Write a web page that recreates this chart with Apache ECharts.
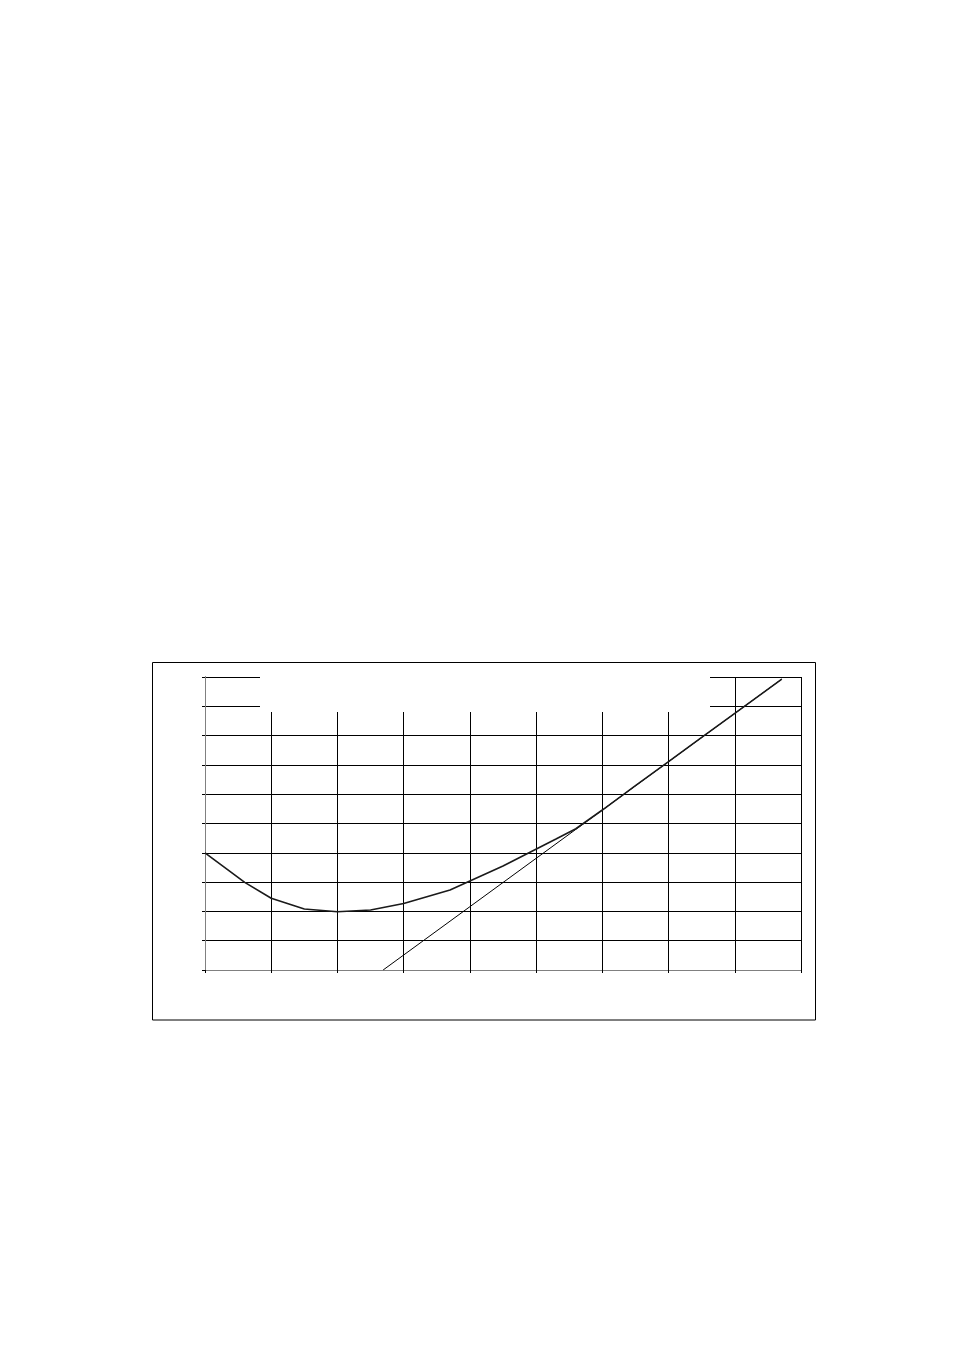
<!DOCTYPE html>
<html>
<head>
<meta charset="utf-8">
<script src="https://cdn.jsdelivr.net/npm/echarts@6/dist/echarts.min.js"></script>
<style>
html,body{margin:0;padding:0;background:#fff;}
#chart{width:954px;height:1350px;}
</style>
</head>
<body>
<div id="chart"></div>
<script>
// Axis ranges (no labels are shown in the reference)
const xTicks = [0, 1, 2, 3, 4, 5, 6, 7, 8, 9];
const yTicks = [0, 1, 2, 3, 4, 5, 6, 7, 8, 9, 10];

// Curve series (x, y)
const curveX = [0, 0.6, 1.0, 1.5, 2.0, 2.5, 3.0, 3.7, 4.0, 4.5, 4.9, 5.3, 5.6, 6.0, 6.5, 7.0, 7.5, 8.0, 8.71];
const curveY = [4.0, 2.99, 2.45, 2.08, 1.99, 2.05, 2.27, 2.73, 3.04, 3.55, 4.01, 4.47, 4.82, 5.46, 6.29, 7.11, 7.94, 8.76, 9.93];

// Straight asymptote line (x, y)
const lineX = [2.69, 8.71];
const lineY = [0, 9.93];

const chart = echarts.init(document.getElementById('chart'), null, {renderer: 'canvas'});

const curveData = curveX.map((x, i) => [x, curveY[i]]);
const lineData = lineX.map((x, i) => [x, lineY[i]]);

const option = {
  backgroundColor: '#ffffff',
  animation: false,
  grid: {left: 205, top: 677, width: 596, height: 293, containLabel: false},
  xAxis: [{
    type: 'value', min: xTicks[0], max: xTicks[xTicks.length - 1], interval: 1,
    position: 'bottom',
    axisLine: {show: true, lineStyle: {color: '#000', width: 1}},
    axisTick: {show: true, length: 3, inside: false, lineStyle: {color: '#000', width: 1}},
    axisLabel: {show: false},
    splitLine: {show: true, lineStyle: {color: '#000', width: 1}}
  }, {
    type: 'value', min: xTicks[0], max: xTicks[xTicks.length - 1], interval: 1,
    position: 'top',
    axisLine: {show: true, lineStyle: {color: '#808080', width: 1}},
    axisTick: {show: false}, axisLabel: {show: false}, splitLine: {show: false}
  }],
  yAxis: [{
    type: 'value', min: yTicks[0], max: yTicks[yTicks.length - 1], interval: 1,
    position: 'left',
    axisLine: {show: true, lineStyle: {color: '#000', width: 1}},
    axisTick: {show: true, length: 3, inside: false, lineStyle: {color: '#000', width: 1}},
    axisLabel: {show: false},
    splitLine: {show: true, lineStyle: {color: '#000', width: 1}}
  }, {
    type: 'value', min: yTicks[0], max: yTicks[yTicks.length - 1], interval: 1,
    position: 'right',
    axisLine: {show: true, lineStyle: {color: '#808080', width: 1}},
    axisTick: {show: false}, axisLabel: {show: false}, splitLine: {show: false}
  }],
  series: [{
    type: 'line', data: lineData, xAxisIndex: 0, yAxisIndex: 0,
    showSymbol: false, symbol: 'none', smooth: false,
    lineStyle: {color: '#000', width: 1}, z: 3
  }, {
    type: 'line', data: curveData, xAxisIndex: 0, yAxisIndex: 0,
    showSymbol: false, symbol: 'none', smooth: false,
    lineStyle: {color: '#1a1a1a', width: 1.6}, z: 4
  }],
  graphic: [{
    type: 'rect', z: 100,
    shape: {x: 260, y: 669, width: 450, height: 43},
    style: {fill: '#ffffff', stroke: null}
  }, {
    type: 'rect', z: 100,
    shape: {x: 152.5, y: 662.5, width: 663, height: 357.5},
    style: {fill: null, stroke: '#000', lineWidth: 1}
  }]
};
chart.setOption(option);
</script>
</body>
</html>
